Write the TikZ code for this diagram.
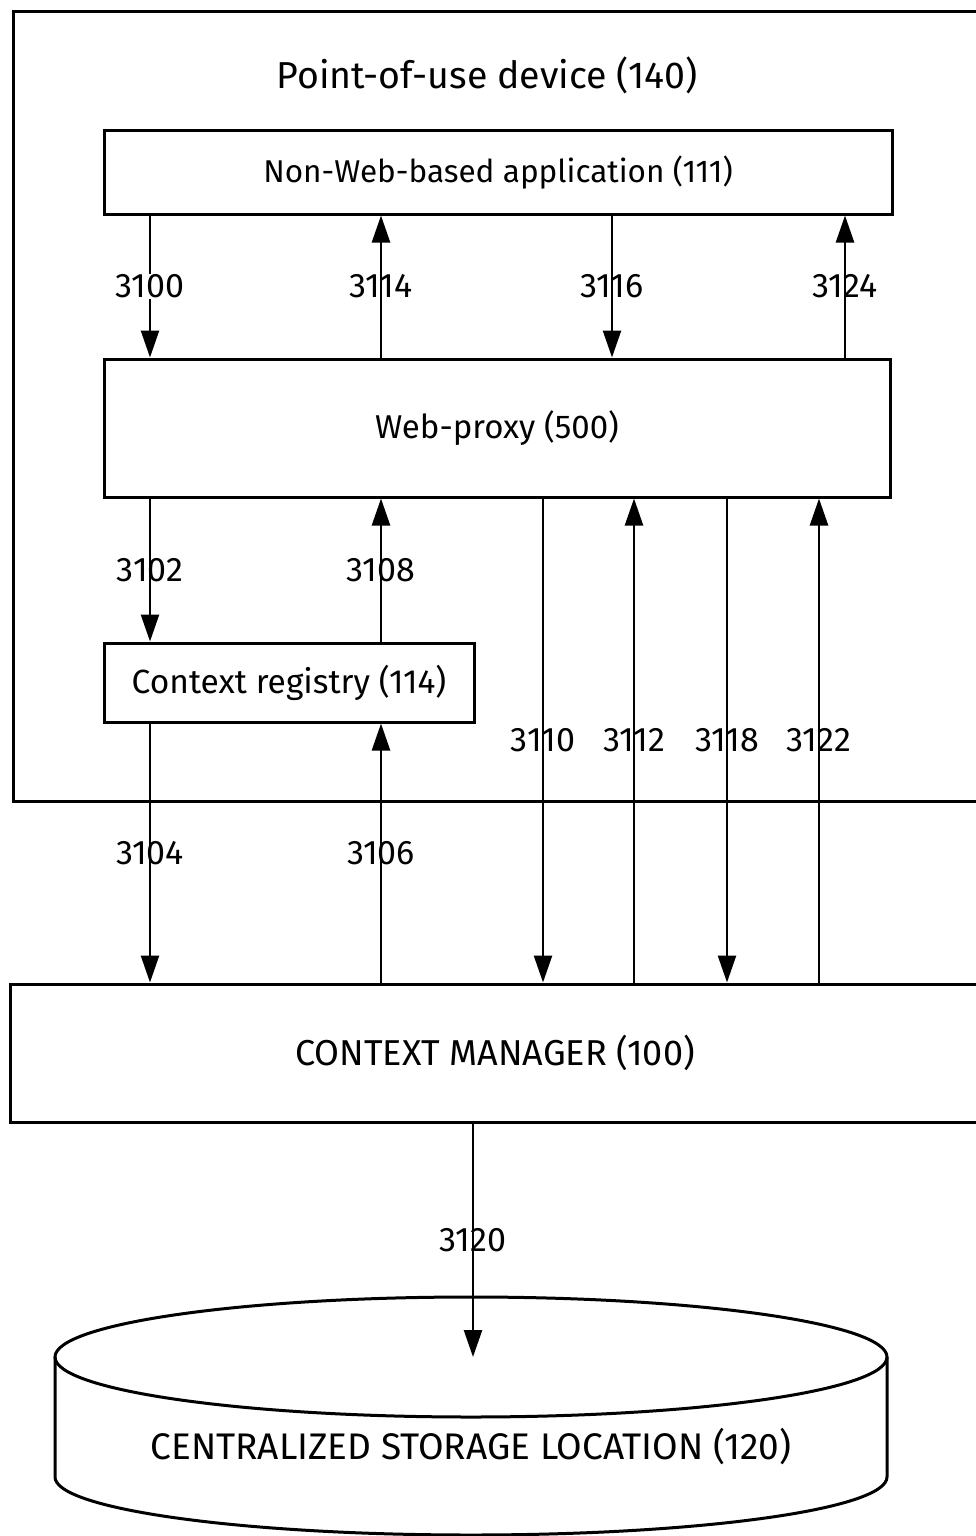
\documentclass[tikz,border=0pt]{standalone}
\usepackage{fontspec}
\setmainfont{Fira Sans}
\usetikzlibrary{arrows.meta}
\newcommand{\fsz}[1]{\fontsize{#1}{#1}\selectfont}
\begin{document}
\begin{tikzpicture}[x=1pt,y=-1pt,
 box/.style={draw, line width=3pt, inner sep=0pt},
 arr/.style={line width=2.5pt, -{Triangle[length=27pt,width=18pt]}},
 lab/.style={font=\fsz{34}, inner sep=1pt},
]
\useasboundingbox (0,0) rectangle (976,1536);
\clip (0,0) rectangle (976,1536);
% device
\node[draw, line width=3pt, minimum width=990pt, minimum height=790pt, anchor=north west, inner sep=0pt] (dev) at (12,10) {};
\node[font=\fsz{37.5}] (title) at (487,75) {Point-of-use device (140)};
\node[box, font=\fsz{31.5}, minimum width=788pt, minimum height=83pt] (app) at (498,172.5) {Non-Web-based application (111)};
\node[box, font=\fsz{33}, minimum width=786pt, minimum height=138pt] (proxy) at (497,428) {Web-proxy (500)};
\node[box, font=\fsz{33.5}, minimum width=370pt, minimum height=79pt] (reg) at (289,682.5) {Context registry (114)};
\node[box, font=\fsz{36}, minimum width=970pt, minimum height=138pt] (cm) at (495,1053) {CONTEXT MANAGER (100)};
% cylinder
\draw[line width=3pt] (471,1357) ellipse [x radius=416pt, y radius=60pt];
\draw[line width=3pt] (55,1357) -- (55,1477) arc[start angle=180, end angle=360, x radius=416pt, y radius=58pt] -- (887,1357);
\node[font=\fsz{37}] (store) at (471,1447) {CENTRALIZED STORAGE LOCATION (120)};
\coordinate (storetop) at (473,1357);
% x positions
\coordinate (xa) at (150,0);
\coordinate (xb) at (381,0);
\coordinate (xc) at (612,0);
\coordinate (xd) at (845,0);
\coordinate (xe) at (543,0);
\coordinate (xf) at (634,0);
\coordinate (xg) at (727,0);
\coordinate (xh) at (819,0);
\coordinate (xi) at (473,0);
% arrows app <-> proxy
\draw[arr] (xa |- app.south) -- node[lab, fill=white]{3100} (xa |- proxy.north);
\draw[arr] (xb |- proxy.north) -- node[lab]{3114} (xb |- app.south);
\draw[arr] (xc |- app.south) -- node[lab]{3116} (xc |- proxy.north);
\draw[arr] (xd |- proxy.north) -- node[lab]{3124} (xd |- app.south);
% proxy <-> registry
\draw[arr] (xa |- proxy.south) -- node[lab]{3102} (xa |- reg.north);
\draw[arr] (xb |- reg.north) -- node[lab]{3108} (xb |- proxy.south);
% registry <-> cm
\draw[arr] (xa |- reg.south) -- node[lab]{3104} (xa |- cm.north);
\draw[arr] (xb |- cm.north) -- node[lab]{3106} (xb |- reg.south);
% proxy <-> cm
\draw[arr] (xe |- proxy.south) -- node[lab]{3110} (xe |- cm.north);
\draw[arr] (xf |- cm.north) -- node[lab]{3112} (xf |- proxy.south);
\draw[arr] (xg |- proxy.south) -- node[lab]{3118} (xg |- cm.north);
\draw[arr] (xh |- cm.north) -- node[lab]{3122} (xh |- proxy.south);
% cm -> storage
\draw[arr] (xi |- cm.south) -- node[lab]{3120} (storetop);
\end{tikzpicture}
\end{document}
